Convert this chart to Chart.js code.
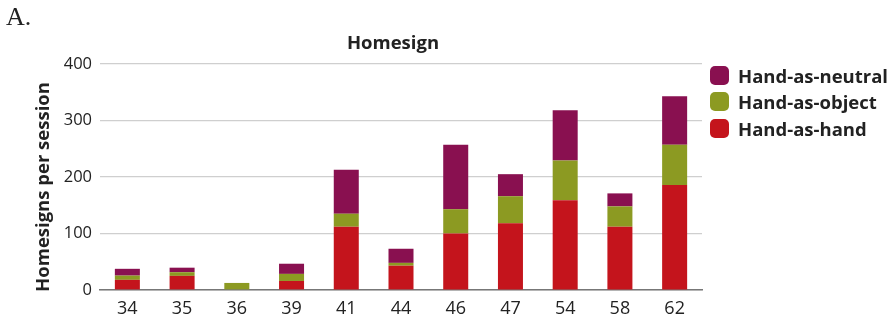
<!DOCTYPE html>
<html>
<head>
<meta charset="utf-8">
<script src="https://cdn.jsdelivr.net/npm/chart.js@4"></script>
<style>
  html,body{margin:0;padding:0;background:#fff;}
  #wrap{position:relative;width:893px;height:318px;}
  canvas{position:absolute;left:0;top:0;}
  #panel{position:absolute;left:6px;top:2px;font-family:"Liberation Serif",serif;font-size:26px;color:#222;}
  #title{position:absolute;left:393px;top:31px;transform:translateX(-50%);font-family:"Open Sans",sans-serif;font-weight:bold;font-size:18.5px;line-height:22px;color:#222;white-space:nowrap;}
  #ytitle{position:absolute;left:42px;top:187px;transform:translate(-50%,-50%) rotate(-90deg);font-family:"Open Sans",sans-serif;font-weight:bold;font-size:18.5px;line-height:22px;color:#222;white-space:nowrap;}
  #legend{position:absolute;left:710px;top:62px;font-family:"Open Sans",sans-serif;font-weight:bold;font-size:18.5px;color:#222;}
  .li{display:flex;align-items:center;height:26.5px;}
  .sw{width:19px;height:19px;border-radius:5px;margin-right:9px;}
</style>
</head>
<body>
<div id="wrap">
  <canvas id="c" width="893" height="318"></canvas>
  <div id="panel">A.</div>
  <div id="title">Homesign</div>
  <div id="ytitle">Homesigns per session</div>
  <div id="legend"></div>
</div>
<script>
const categories = ["34","35","36","39","41","44","46","47","54","58","62"];
const handAsHand    = [18, 25, 0, 16, 112, 43, 100, 118, 159, 112, 186];
const handAsObject  = [7.5, 6.5, 12.5, 12.5, 23, 5, 43, 48, 70, 36, 71];
const handAsNeutral = [12, 8, 0, 18, 78, 25, 114, 39, 89, 23, 86];
const yTicks = [0, 100, 200, 300, 400];

const colors = { hand: "#c4141c", object: "#8c9a22", neutral: "#891050" };

const datasets = [
  { label: "Hand-as-hand", data: handAsHand, backgroundColor: colors.hand },
  { label: "Hand-as-object", data: handAsObject, backgroundColor: colors.object },
  { label: "Hand-as-neutral", data: handAsNeutral, backgroundColor: colors.neutral }
];

// HTML legend (top to bottom: neutral, object, hand)
const leg = document.getElementById("legend");
datasets.slice().reverse().forEach(d => {
  const row = document.createElement("div");
  row.className = "li";
  const sw = document.createElement("div");
  sw.className = "sw";
  sw.style.background = d.backgroundColor;
  const tx = document.createElement("span");
  tx.textContent = d.label;
  row.appendChild(sw); row.appendChild(tx);
  leg.appendChild(row);
});

new Chart(document.getElementById("c"), {
  type: "bar",
  data: {
    labels: categories,
    datasets: datasets.map(d => Object.assign({}, d, {
      categoryPercentage: 1.0,
      barPercentage: 0.457,
      borderWidth: 0
    }))
  },
  options: {
    responsive: false,
    animation: false,
    devicePixelRatio: 1,
    layout: { padding: { top: 64, right: 191, left: 0, bottom: 0 } },
    plugins: {
      legend: { display: false },
      title: { display: false },
      tooltip: { enabled: false }
    },
    scales: {
      x: {
        stacked: true,
        grid: { display: false, drawTicks: false },
        border: { display: true, color: "#777", width: 1.5 },
        ticks: {
          color: "#222",
          font: { family: "Open Sans", size: 18 },
          padding: 8
        },
        afterFit: s => { s.height = 28; }
      },
      y: {
        stacked: true,
        min: 0,
        max: 400,
        afterBuildTicks: s => { s.ticks = yTicks.map(v => ({ value: v })); },
        grid: { color: "#cfcfcf", lineWidth: 1.2, drawTicks: false },
        border: { display: false },
        ticks: {
          color: "#222",
          font: { family: "Open Sans", size: 16.5 },
          padding: 8
        },
        afterFit: s => { s.width = 100; }
      }
    }
  }
});
</script>
</body>
</html>
